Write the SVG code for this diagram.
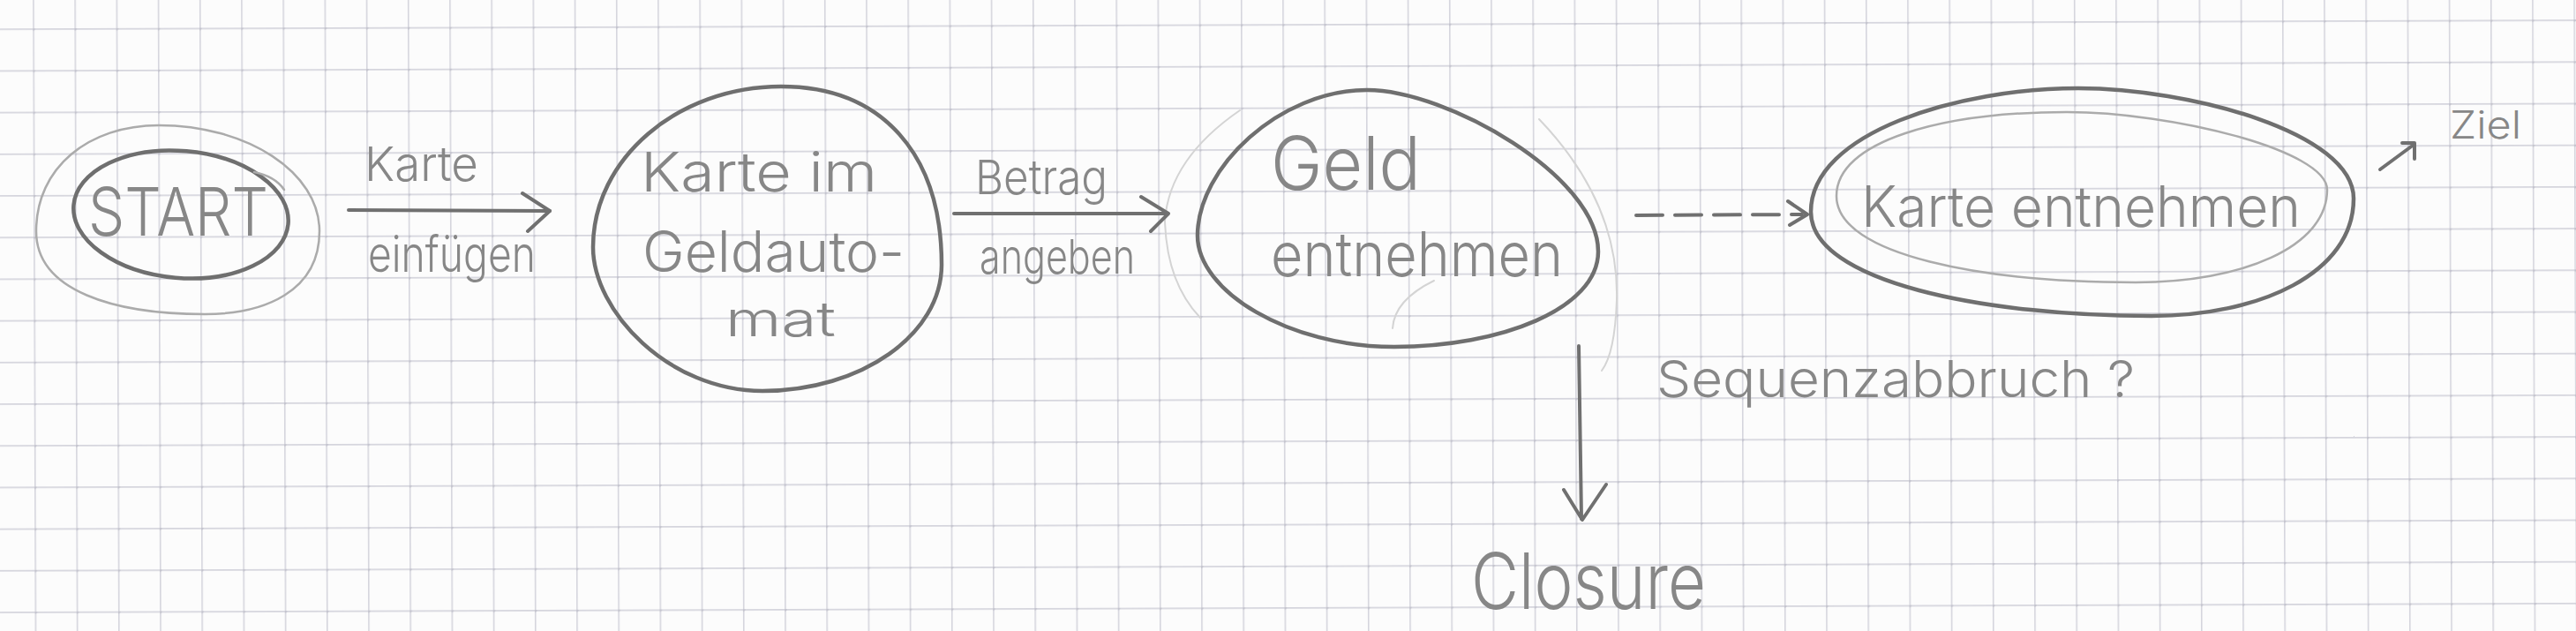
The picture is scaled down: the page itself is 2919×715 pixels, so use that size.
<svg xmlns="http://www.w3.org/2000/svg" width="2919" height="715" viewBox="0 0 2919 715">
<style>
.bold{fill:none;stroke:#6f6f6f;stroke-width:4.5;stroke-linecap:round;stroke-linejoin:round}
.thin{fill:none;stroke:#ababab;stroke-width:2.5;stroke-linecap:round}
.faint{fill:none;stroke:#d4d4d4;stroke-width:2;stroke-linecap:round}
.conn{fill:none;stroke:#707070;stroke-width:4;stroke-linecap:round;stroke-linejoin:round}
.lbl{fill:#878787;font-family:Inter,Roboto,"Liberation Sans",sans-serif;font-weight:300}
</style>
<defs>
<pattern id="grid" patternUnits="userSpaceOnUse" x="37.1" y="32.3" width="47.2" height="47.2" patternTransform="rotate(-0.2)">
<path d="M0 0.8H47.2M0.8 0V47.2" stroke="#d5d5dd" stroke-width="1.6" fill="none"/>
<circle cx="0.8" cy="0.8" r="1.8" fill="#c4c4ce"/>
</pattern>
</defs>
<rect x="0" y="0" width="2919" height="715" fill="#fcfcfc"/>
<rect x="-20" y="-20" width="2960" height="760" fill="url(#grid)"/>

<g id="node-start">
<path class="thin" d="M180,142 C280,142 362,195 362,262 C362,330 300,356 232,356 C130,356 41,330 41,262 C41,190 100,142 180,142Z"/>
<ellipse class="bold" cx="205" cy="243" rx="122" ry="72" transform="rotate(5 205 243)"/>
<path class="thin" d="M288,195 Q312,200 322,215"/>
<text class="lbl" x="100" y="267" font-size="75" textLength="204" lengthAdjust="spacingAndGlyphs">START</text>
</g>

<g id="node-karte-im-geldautomat">
<path class="bold" d="M885,98 C1000,98 1067,175 1067,300 C1067,379 976,443 864,443 C758,443 672,353 672,280 C672,180 768,98 885,98Z"/>
<text class="lbl" x="726" y="217" font-size="62" textLength="268" lengthAdjust="spacingAndGlyphs">Karte im</text>
<text class="lbl" x="728" y="308" font-size="64" textLength="297" lengthAdjust="spacingAndGlyphs">Geldauto-</text>
<text class="lbl" x="822" y="381" font-size="54" textLength="125" lengthAdjust="spacingAndGlyphs">mat</text>
</g>

<g id="node-geld-entnehmen">
<path class="faint" d="M1405,125 Q1325,180 1320,250 Q1322,320 1360,360"/>
<path class="faint" d="M1744,135 Q1835,230 1832,340 Q1830,400 1815,420"/>
<path class="faint" d="M1625,318 Q1580,340 1578,372"/>
<path class="bold" d="M1549,102 C1640,102 1811,200 1811,285 C1811,350 1700,393 1580,393 C1460,393 1357,330 1357,267 C1357,190 1450,102 1549,102Z"/>
<text class="lbl" x="1440" y="215" font-size="84" textLength="170" lengthAdjust="spacingAndGlyphs">Geld</text>
<text class="lbl" x="1440" y="313" font-size="70" textLength="331" lengthAdjust="spacingAndGlyphs">entnehmen</text>
</g>

<g id="node-karte-entnehmen">
<path class="bold" d="M2355,100 C2480,100 2667,150 2667,225 C2667,310 2560,358 2438,358 C2250,358 2052,320 2052,240 C2052,150 2220,100 2355,100Z"/>
<path class="thin" d="M2342,127 C2460,127 2637,170 2637,215 C2637,280 2540,320 2420,320 C2250,320 2081,290 2081,222 C2081,160 2200,127 2342,127Z"/>
<text class="lbl" x="2109" y="257" font-size="64" textLength="498" lengthAdjust="spacingAndGlyphs">Karte entnehmen</text>
</g>

<g id="node-ziel">
<text class="lbl" x="2776" y="157" font-size="44" textLength="81" lengthAdjust="spacingAndGlyphs">Ziel</text>
</g>

<g id="node-closure">
<text class="lbl" x="1667" y="690" font-size="88" textLength="266" lengthAdjust="spacingAndGlyphs">Closure</text>
</g>

<g id="note-sequenzabbruch">
<text class="lbl" x="1877" y="450" font-size="58" textLength="542" lengthAdjust="spacingAndGlyphs">Sequenzabbruch ?</text>
</g>

<g id="connectors">
<g id="edge-karte-einfuegen">
<path class="conn" d="M395,238 L623,239"/>
<path class="conn" d="M592,219 L623,239 L598,262"/>
<text class="lbl" x="413" y="205" font-size="54" textLength="129" lengthAdjust="spacingAndGlyphs">Karte</text>
<text class="lbl" x="417" y="308" font-size="56" textLength="190" lengthAdjust="spacingAndGlyphs">einfügen</text>
</g>
<g id="edge-betrag-angeben">
<path class="conn" d="M1081,242 L1322,242"/>
<path class="conn" d="M1293,223 L1324,242 L1304,262"/>
<text class="lbl" x="1105" y="220" font-size="54" textLength="150" lengthAdjust="spacingAndGlyphs">Betrag</text>
<text class="lbl" x="1110" y="310" font-size="54" textLength="176" lengthAdjust="spacingAndGlyphs">angeben</text>
</g>
<g id="edge-dashed">
<path class="conn" d="M1854,244 L2042,243" stroke-dasharray="30 14"/>
<path class="conn" d="M2026,228 L2048,243 L2028,255"/>
</g>
<g id="edge-closure">
<path class="conn" d="M1789,392 L1792,588"/>
<path class="conn" d="M1772,555 L1793,589 L1820,549"/>
</g>
<g id="edge-ziel">
<path class="conn" stroke-width="3" d="M2697,192 L2735,164"/>
<path class="conn" stroke-width="3" d="M2722,162 L2736,162 L2736,180"/>
</g>
</g>
</svg>
